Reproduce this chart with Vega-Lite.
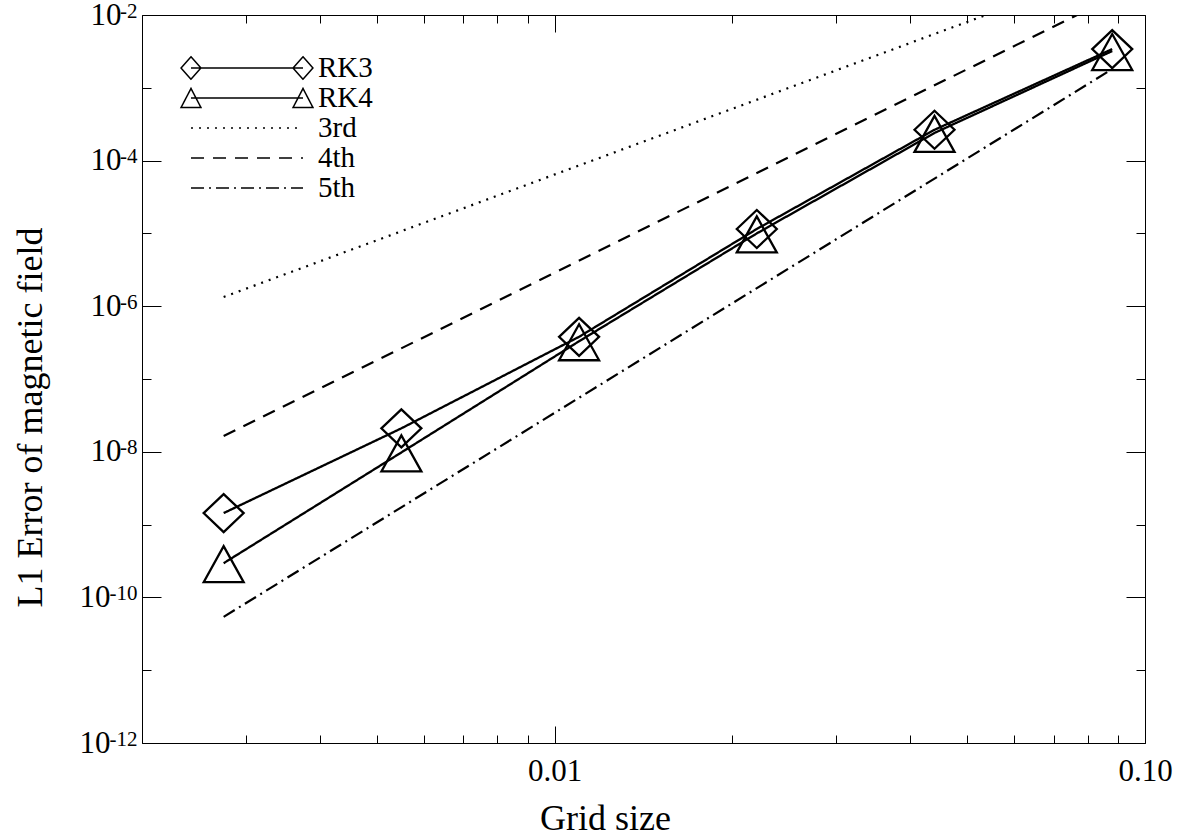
{
  "$schema": "https://vega.github.io/schema/vega-lite/v6.json",
  "autosize": {"type": "none"},
  "width": 1003,
  "height": 728,
  "padding": {"left": 142, "top": 15, "right": 45, "bottom": 95},
  "background": "white",
  "config": {
    "view": {"stroke": null},
    "font": "Liberation Serif",
    "axis": {
      "domainColor": "black",
      "domainWidth": 1,
      "tickColor": "black",
      "tickWidth": 1,
      "grid": false,
      "labelFont": "Liberation Serif",
      "labelFontSize": 31,
      "labelColor": "black",
      "titleFont": "Liberation Serif",
      "titleFontSize": 36,
      "titleFontWeight": "normal",
      "titleColor": "black"
    },
    "legend": {
      "title": null,
      "orient": "none",
      "legendX": 90,
      "legendY": 38,
      "padding": 0,
      "symbolSize": 784,
      "symbolType": "M-4,0H4",
      "symbolStrokeColor": "black",
      "symbolStrokeWidth": 1.5,
      "symbolFillColor": "transparent",
      "labelFont": "Liberation Serif",
      "labelFontSize": 29,
      "labelColor": "black",
      "labelOffset": 56,
      "rowPadding": 0
    }
  },
  "data": {
    "values": [
      {"series": "RK3", "h": 0.00275, "err": 1.44e-9},
      {"series": "RK3", "h": 0.0055, "err": 2.1e-8},
      {"series": "RK3", "h": 0.011, "err": 3.8e-7},
      {"series": "RK3", "h": 0.022, "err": 1.15e-5},
      {"series": "RK3", "h": 0.044, "err": 2.65e-4},
      {"series": "RK3", "h": 0.088, "err": 3.4e-3},
      {"series": "RK4", "h": 0.00275, "err": 2.95e-10},
      {"series": "RK4", "h": 0.0055, "err": 9.8e-9},
      {"series": "RK4", "h": 0.011, "err": 3.3e-7},
      {"series": "RK4", "h": 0.022, "err": 1.0e-5},
      {"series": "RK4", "h": 0.044, "err": 2.4e-4},
      {"series": "RK4", "h": 0.088, "err": 3.2e-3},
      {"series": "3rd", "h": 0.00275, "err": 1.34e-6},
      {"series": "3rd", "h": 0.088, "err": 0.0439},
      {"series": "4th", "h": 0.00275, "err": 1.65e-8},
      {"series": "4th", "h": 0.088, "err": 0.0173},
      {"series": "5th", "h": 0.00275, "err": 5.4e-11},
      {"series": "5th", "h": 0.088, "err": 1.81e-3}
    ]
  },
  "layer": [
    {
      "transform": [{"filter": "datum.series === 'RK3' || datum.series === 'RK4'"}],
      "mark": {"type": "line", "stroke": "black", "strokeWidth": 2.3, "clip": true, "strokeCap": "butt"},
      "encoding": {
        "x": {
          "field": "h", "type": "quantitative",
          "scale": {"type": "log", "domain": [0.002, 0.1], "nice": false, "zero": false},
          "axis": {
            "orient": "bottom",
            "title": "Grid size",
            "titleX": 463, "titleY": 75, "titleAlign": "center", "titleBaseline": "middle",
            "values": [0.002, 0.003, 0.004, 0.005, 0.006, 0.007, 0.008, 0.009, 0.01, 0.02, 0.03, 0.04, 0.05, 0.06, 0.07, 0.08, 0.09, 0.1],
            "tickSize": {"condition": {"test": "abs(datum.value - 0.01) < 1e-9 || abs(datum.value - 0.1) < 1e-9", "value": -17}, "value": -8},
            "labelExpr": "abs(datum.value - 0.01) < 1e-9 ? '0.01' : (abs(datum.value - 0.1) < 1e-9 ? '0.10' : '')",
            "labelPadding": 30,
            "labelFlush": false,
            "labelOverlap": false
          }
        },
        "y": {
          "field": "err", "type": "quantitative",
          "scale": {"type": "log", "domain": [1e-12, 1e-2], "nice": false, "zero": false},
          "axis": {
            "orient": "left",
            "title": "L1 Error of magnetic field",
            "titleAngle": -90, "titleX": -112, "titleY": 402, "titleAlign": "center", "titleBaseline": "middle",
            "values": [1e-12, 1e-11, 1e-10, 1e-9, 1e-8, 1e-7, 1e-6, 1e-5, 1e-4, 1e-3, 1e-2],
            "tickSize": {"condition": {"test": "round(log(datum.value) / LN10) % 2 == 0", "value": -19}, "value": -9},
            "labelExpr": "round(log(datum.value) / LN10) % 2 == 0 ? '10' : ''",
            "labelPadding": {"condition": {"test": "round(log(datum.value) / LN10) <= -10", "value": 51}, "value": 40},
            "labelFlush": false,
            "labelOverlap": false
          }
        },
        "strokeDash": {
          "field": "series", "type": "nominal",
          "scale": {
            "domain": ["RK3", "RK4", "3rd", "4th", "5th"],
            "range": [[1, 0], [1, 0], [2, 6], [13, 9], [13, 5, 2, 5]]
          },
          "legend": {
            "encode": {
              "symbols": {
                "update": {
                  "shape": {"signal": "datum.value === 'RK3' ? 'M-4,0H4M-4.71,0L-4,-0.8L-3.29,0L-4,0.8ZM3.29,0L4,-0.8L4.71,0L4,0.8Z' : datum.value === 'RK4' ? 'M-4,0H4M-4.71,0.68L-4,-0.68L-3.29,0.68ZM3.29,0.68L4,-0.68L4.71,0.68Z' : 'M-4,0H4'"},
                  "fill": {"value": "transparent"},
                  "stroke": {"value": "black"},
                  "strokeWidth": {"value": 1.5}
                }
              }
            }
          }
        }
      }
    },
    {
      "transform": [{"filter": "datum.series === '3rd' || datum.series === '4th' || datum.series === '5th'"}],
      "mark": {"type": "line", "stroke": "black", "strokeWidth": 2.2, "clip": true, "strokeCap": "butt"},
      "encoding": {
        "x": {
          "field": "h", "type": "quantitative",
          "axis": {
            "orient": "top", "title": null, "labels": false,
            "values": [0.002, 0.003, 0.004, 0.005, 0.006, 0.007, 0.008, 0.009, 0.01, 0.02, 0.03, 0.04, 0.05, 0.06, 0.07, 0.08, 0.09, 0.1],
            "tickSize": {"condition": {"test": "abs(datum.value - 0.01) < 1e-9 || abs(datum.value - 0.1) < 1e-9", "value": -17}, "value": -8}
          }
        },
        "y": {
          "field": "err", "type": "quantitative",
          "axis": {
            "orient": "right", "title": null, "labels": false,
            "values": [1e-12, 1e-11, 1e-10, 1e-9, 1e-8, 1e-7, 1e-6, 1e-5, 1e-4, 1e-3, 1e-2],
            "tickSize": {"condition": {"test": "round(log(datum.value) / LN10) % 2 == 0", "value": -19}, "value": -9}
          }
        },
        "strokeDash": {
          "field": "series", "type": "nominal",
          "legend": {
            "encode": {
              "symbols": {
                "update": {
                  "shape": {"signal": "datum.value === 'RK3' ? 'M-4,0H4M-4.71,0L-4,-0.8L-3.29,0L-4,0.8ZM3.29,0L4,-0.8L4.71,0L4,0.8Z' : datum.value === 'RK4' ? 'M-4,0H4M-4.71,0.68L-4,-0.68L-3.29,0.68ZM3.29,0.68L4,-0.68L4.71,0.68Z' : 'M-4,0H4'"},
                  "fill": {"value": "transparent"},
                  "stroke": {"value": "black"},
                  "strokeWidth": {"value": 1.5}
                }
              }
            }
          }
        }
      }
    },
    {
      "transform": [{"filter": "datum.series === 'RK3' || datum.series === 'RK4'"}],
      "mark": {"type": "point", "filled": false, "stroke": "black", "strokeWidth": 2.3, "opacity": 1},
      "encoding": {
        "x": {"field": "h", "type": "quantitative", "axis": null},
        "y": {
          "field": "err", "type": "quantitative",
          "axis": {
            "orient": "left", "title": null, "ticks": false, "domain": false,
            "values": [1e-12, 1e-10, 1e-8, 1e-6, 1e-4, 1e-2],
            "labelExpr": "'' + round(log(datum.value) / LN10)",
            "labelFontSize": 21,
            "labelPadding": 5,
            "labelOffset": -4,
            "labelFlush": false,
            "labelOverlap": false
          }
        },
        "shape": {
          "field": "series", "type": "nominal",
          "scale": {
            "domain": ["RK3", "RK4"],
            "range": ["M-1,0L0,-0.95L1,0L0,0.95Z", "M-1,0.95L0,-0.85L1,0.95Z"]
          },
          "legend": null
        },
        "size": {"value": 1600}
      }
    }
  ],
  "resolve": {"axis": {"x": "independent", "y": "independent"}}
}
